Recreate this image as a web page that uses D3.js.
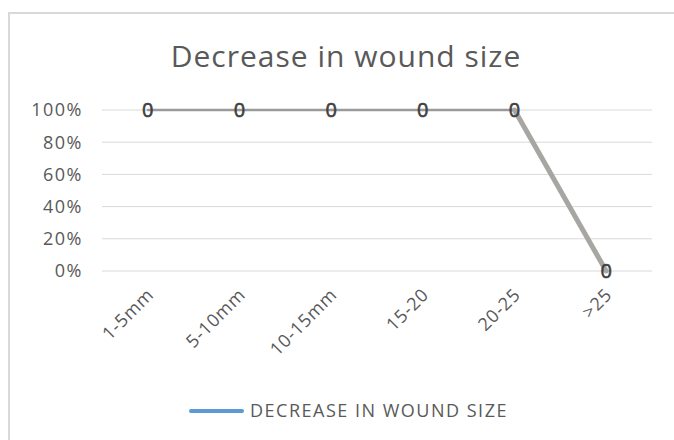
<!DOCTYPE html>
<html>
<head>
<meta charset="utf-8">
<script src="https://cdn.jsdelivr.net/npm/d3@7"></script>
<style>
  body { margin: 0; background: #fff; }
  svg { display: block; font-family: "Open Sans", "Noto Sans", sans-serif; }
</style>
</head>
<body>
<svg id="chart" width="674" height="440"></svg>
<script>
// chart data
const categories = ["1-5mm", "5-10mm", "10-15mm", "15-20", "20-25", ">25"];
const values = [1, 1, 1, 1, 1, 0];
const labels = ["0", "0", "0", "0", "0", "0"];
const yTicks = [0, 0.2, 0.4, 0.6, 0.8, 1];
const seriesName = "DECREASE IN WOUND SIZE";

const svg = d3.select("#chart");
const width = 674, height = 440;
const margins = { top: 110, right: 22, bottom: 169, left: 102 };

// outer chart border (runs off the right / bottom of the picture)
svg.append("rect")
  .attr("x", 9).attr("y", 13)
  .attr("width", width).attr("height", height)
  .attr("fill", "none")
  .attr("stroke", "#d9d9d9")
  .attr("stroke-width", 2);

svg.append("text")
  .attr("x", 346).attr("y", 67)
  .attr("text-anchor", "middle")
  .attr("fill", "#595959")
  .style("font-size", "30px")
  .style("letter-spacing", "1px")
  .text("Decrease in wound size");

var x = d3.scaleBand()
  .domain(categories)
  .range([margins.left, width - margins.right]);

var y = d3.scaleLinear()
  .domain([0, 1])
  .range([height - margins.bottom, margins.top]);

// gridlines
svg.append("g")
  .selectAll("line")
  .data(yTicks)
  .join("line")
  .attr("x1", margins.left)
  .attr("x2", width - margins.right)
  .attr("y1", d => y(d))
  .attr("y2", d => y(d))
  .attr("stroke", "#d9d9d9")
  .attr("stroke-width", 1);

// y axis labels
svg.append("g")
  .selectAll("text")
  .data(yTicks)
  .join("text")
  .attr("x", 83)
  .attr("y", d => y(d))
  .attr("dy", "0.35em")
  .attr("text-anchor", "end")
  .attr("fill", "#595959")
  .style("font-size", "18px")
  .style("letter-spacing", "1.5px")
  .text(d3.format(".0%"));

// x axis labels, rotated
const cx = d => x(d) + x.bandwidth() / 2;
svg.append("g")
  .selectAll("text")
  .data(categories)
  .join("text")
  .attr("transform", d => `translate(${cx(d) + 7},${y(0) + 25}) rotate(-45)`)
  .attr("text-anchor", "end")
  .attr("fill", "#595959")
  .style("font-size", "18px")
  .style("letter-spacing", "0.8px")
  .text(d => d);

// the line, drawn as segments
const pts = categories.map((c, i) => [cx(c), y(values[i])]);
const segs = d3.pairs(pts);
svg.append("g")
  .selectAll("line")
  .data(segs)
  .join("line")
  .attr("x1", d => d[0][0]).attr("y1", d => d[0][1])
  .attr("x2", d => d[1][0]).attr("y2", d => d[1][1])
  .attr("stroke", (d, i) => i === segs.length - 1 ? "#a8a6a3" : "#9a9a9a")
  .attr("stroke-width", (d, i) => i === segs.length - 1 ? 5 : 2.5)
  .attr("stroke-linecap", "round");

// data labels
svg.append("g")
  .selectAll("text")
  .data(categories)
  .join("text")
  .attr("x", d => cx(d))
  .attr("y", (d, i) => y(values[i]))
  .attr("dy", "0.36em")
  .attr("text-anchor", "middle")
  .attr("fill", "#404040")
  .attr("stroke", "#404040")
  .attr("stroke-width", 0.6)
  .style("font-size", "20px")
  .text((d, i) => labels[i]);

// legend
svg.append("line")
  .attr("x1", 191).attr("x2", 242)
  .attr("y1", 411).attr("y2", 411)
  .attr("stroke", "#5b9bd5")
  .attr("stroke-width", 4)
  .attr("stroke-linecap", "round");

svg.append("text")
  .attr("x", 250).attr("y", 411)
  .attr("dy", "0.35em")
  .attr("fill", "#595959")
  .style("font-size", "18px")
  .style("letter-spacing", "1.5px")
  .text(seriesName);
</script>
</body>
</html>
